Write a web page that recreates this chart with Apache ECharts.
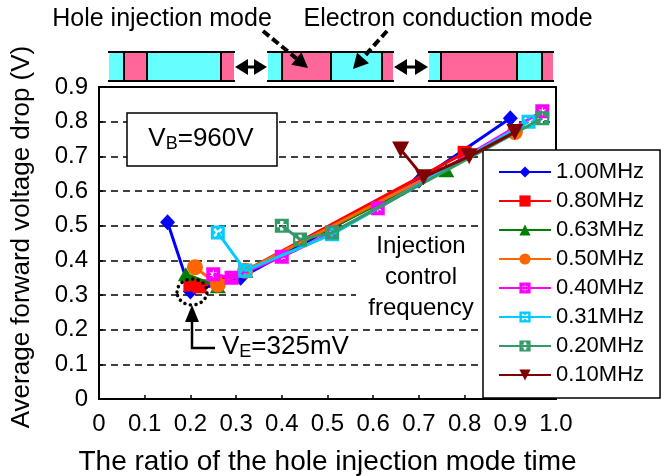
<!DOCTYPE html>
<html>
<head>
<meta charset="utf-8">
<script src="https://cdn.jsdelivr.net/npm/echarts@6/dist/echarts.min.js"></script>
<style>
  html, body { margin: 0; padding: 0; background: #fff; }
  #chart { width: 667px; height: 476px; }
</style>
</head>
<body>
<div id="chart"></div>
<script>
// ---- Data ----
const seriesNames = ['1.00MHz', '0.80MHz', '0.63MHz', '0.50MHz', '0.40MHz', '0.31MHz', '0.20MHz', '0.10MHz'];

const ratio_100 = [0.15, 0.20, 0.31, 0.70, 0.90];
const vf_100    = [0.51, 0.31, 0.35, 0.63, 0.81];

const ratio_080 = [0.20, 0.22, 0.32, 0.80];
const vf_080    = [0.33, 0.325, 0.37, 0.71];

const ratio_063 = [0.19, 0.26, 0.32, 0.76];
const vf_063    = [0.36, 0.325, 0.37, 0.66];

const ratio_050 = [0.21, 0.26, 0.32, 0.91];
const vf_050    = [0.38, 0.33, 0.37, 0.77];

const ratio_040 = [0.25, 0.29, 0.40, 0.51, 0.61, 0.97];
const vf_040    = [0.36, 0.35, 0.41, 0.48, 0.55, 0.83];

const ratio_031 = [0.26, 0.32, 0.51, 0.94];
const vf_031    = [0.48, 0.37, 0.475, 0.80];

const ratio_020 = [0.40, 0.44, 0.51, 0.97];
const vf_020    = [0.50, 0.46, 0.48, 0.81];

const ratio_010 = [0.66, 0.71, 0.81, 0.91];
const vf_010    = [0.72, 0.64, 0.70, 0.77];

const xTickLabels = ['0', '0.1', '0.2', '0.3', '0.4', '0.5', '0.6', '0.7', '0.8', '0.9', '1.0'];
const yTickLabels = ['0', '0.1', '0.2', '0.3', '0.4', '0.5', '0.6', '0.7', '0.8', '0.9'];

// ---- Styles ----
const FONT = "'Liberation Sans', Arial, Helvetica, sans-serif";
const SQ = 'M0 0L100 0L100 100L0 100Z';
const SYM_ASTER = 'path://' + SQ + 'M50 16L44.5 40.5L20.6 33L39 50L20.6 67L44.5 59.5L50 84L55.5 59.5L79.4 67L61 50L79.4 33L55.5 40.5Z';
const SYM_X = 'path://' + SQ + 'M18 30L36 50L18 70L30 82L50 64L70 82L82 70L64 50L82 30L70 18L50 36L30 18Z';
const SYM_PLUS = 'path://' + SQ + 'M38 16L38 38L16 38L16 62L38 62L38 84L62 84L62 62L84 62L84 38L62 38L62 16Z';
const SYM_TRIDOWN = 'path://M0 0L100 0L50 90Z';

const seriesDefs = [
  { x: ratio_100, y: vf_100, color: '#0000FF', symbol: 'diamond', size: [15, 16] },
  { x: ratio_080, y: vf_080, color: '#FF0000', symbol: 'rect', size: 14 },
  { x: ratio_063, y: vf_063, color: '#008000', symbol: 'triangle', size: [16, 14] },
  { x: ratio_050, y: vf_050, color: '#FF6600', symbol: 'circle', size: 16 },
  { x: ratio_040, y: vf_040, color: '#FF00FF', symbol: SYM_ASTER, size: 14 },
  { x: ratio_031, y: vf_031, color: '#00CCFF', symbol: SYM_X, size: 14 },
  { x: ratio_020, y: vf_020, color: '#339966', symbol: SYM_PLUS, size: 14 },
  { x: ratio_010, y: vf_010, color: '#800000', symbol: SYM_TRIDOWN, size: [17, 16] }
];

const series = seriesDefs.map((d, i) => ({
  name: seriesNames[i],
  type: 'line',
  data: d.x.map((v, k) => [v, d.y[k]]),
  symbol: d.symbol,
  symbolSize: d.size,
  showSymbol: true,
  lineStyle: { color: d.color, width: 3 },
  itemStyle: { color: d.color, borderWidth: 0 },
  emphasis: { disabled: true },
  z: 3 + i
}));

// ---- Decorative top diagram ----
const CYAN = '#66FFFF', PINK = '#FF6699';
function modeBar(segs) {
  const els = [];
  const x0 = segs[0][0], x1 = segs[segs.length - 1][1];
  segs.forEach(s => els.push({ type: 'rect', shape: { x: s[0], y: 52, width: s[1] - s[0], height: 29 }, style: { fill: s[2] }, z: 20 }));
  for (let k = 1; k < segs.length; k++) {
    els.push({ type: 'line', shape: { x1: segs[k][0], y1: 52, x2: segs[k][0], y2: 81 }, style: { stroke: '#000', lineWidth: 2 }, z: 21 });
  }
  els.push({ type: 'line', shape: { x1: x0 - 1, y1: 52, x2: x1 + 1, y2: 52 }, style: { stroke: '#000', lineWidth: 2 }, z: 21 });
  els.push({ type: 'line', shape: { x1: x0 - 1, y1: 81, x2: x1 + 1, y2: 81 }, style: { stroke: '#000', lineWidth: 2 }, z: 21 });
  return els;
}
function dblArrow(xa, xb, y) {
  return [
    { type: 'polygon', shape: { points: [[xa, y], [xa + 13, y - 8], [xa + 13, y + 8]] }, style: { fill: '#000' }, z: 21 },
    { type: 'polygon', shape: { points: [[xb, y], [xb - 13, y - 8], [xb - 13, y + 8]] }, style: { fill: '#000' }, z: 21 },
    { type: 'line', shape: { x1: xa + 10, y1: y, x2: xb - 10, y2: y }, style: { stroke: '#000', lineWidth: 3 }, z: 21 }
  ];
}
function dashArrow(x1, y1, x2, y2) {
  const a = Math.atan2(y2 - y1, x2 - x1);
  const L = 15, W = 8;
  const bx = x2 - L * Math.cos(a), by = y2 - L * Math.sin(a);
  const px = -Math.sin(a) * W, py = Math.cos(a) * W;
  return [
    { type: 'line', shape: { x1: x1, y1: y1, x2: bx, y2: by }, style: { stroke: '#000', lineWidth: 4, lineDash: [8, 4] }, z: 22 },
    { type: 'polygon', shape: { points: [[x2, y2], [bx + px, by + py], [bx - px, by - py]] }, style: { fill: '#000' }, z: 22 }
  ];
}

const graphics = [].concat(
  modeBar([[109, 124, CYAN], [124, 147, PINK], [147, 221, CYAN], [221, 234, PINK]]),
  modeBar([[268, 282, CYAN], [282, 331, PINK], [331, 382, CYAN], [382, 393, PINK]]),
  modeBar([[429, 441, CYAN], [441, 517, PINK], [517, 542, CYAN], [542, 553, PINK]]),
  dblArrow(235, 267, 67),
  dblArrow(394, 428, 67),
  dashArrow(263, 31, 308, 68),
  dashArrow(387, 31, 353, 69),
  [
    { type: 'text', x: 162, y: 19, style: { text: 'Hole injection mode', font: '25px ' + FONT, fill: '#000', align: 'center', verticalAlign: 'middle' }, z: 23 },
    { type: 'text', x: 448, y: 19, style: { text: 'Electron conduction mode', font: '25px ' + FONT, fill: '#000', align: 'center', verticalAlign: 'middle' }, z: 23 },
    // Y axis title
    { type: 'text', x: 22, y: 237, rotation: Math.PI / 2, style: { text: 'Average forward voltage drop (V)', font: '26px ' + FONT, fill: '#000', align: 'center', verticalAlign: 'middle' }, z: 23 },
    // V_B box
    { type: 'rect', shape: { x: 127, y: 113, width: 150, height: 53 }, style: { fill: '#fff', stroke: '#000', lineWidth: 1.5 }, z: 5 },
    { type: 'text', x: 201, y: 139, style: {
        text: 'V{sub|B}=960V', font: '26px ' + FONT, fill: '#000', align: 'center', verticalAlign: 'middle',
        rich: { sub: { fontSize: 18, fontFamily: FONT, padding: [10, 0, 0, 0], fill: '#000' } }
      }, z: 6 },
    // Injection control frequency label
    { type: 'rect', shape: { x: 356, y: 236, width: 127, height: 87 }, style: { fill: '#fff' }, z: 5 },
    { type: 'text', x: 421, y: 277, style: { text: 'Injection\ncontrol\nfrequency', font: '24px ' + FONT, lineHeight: 31, fill: '#000', align: 'center', verticalAlign: 'middle' }, z: 6 },
    // V_E annotation
    { type: 'ellipse', shape: { cx: 192, cy: 292, rx: 15, ry: 13 }, style: { fill: 'none', stroke: '#000', lineWidth: 3.5, lineDash: [0.1, 5.5], lineCap: 'round' }, z: 30 },
    { type: 'polyline', shape: { points: [[215, 348], [192, 348], [192, 318]] }, style: { stroke: '#000', lineWidth: 2.5, fill: 'none' }, z: 30 },
    { type: 'polygon', shape: { points: [[192, 305], [185, 322], [199, 322]] }, style: { fill: '#000' }, z: 30 },
    { type: 'text', x: 222, y: 347, style: {
        text: 'V{sub|E}=325mV', font: '26px ' + FONT, fill: '#000', align: 'left', verticalAlign: 'middle',
        rich: { sub: { fontSize: 18, fontFamily: FONT, padding: [10, 0, 0, 0], fill: '#000' } }
      }, z: 30 }
  ]
);

const chart = echarts.init(document.getElementById('chart'), null, { renderer: 'canvas' });
chart.setOption({
  animation: false,
  backgroundColor: '#fff',
  textStyle: { fontFamily: FONT, color: '#000' },
  grid: { left: 99, top: 87, right: 111, bottom: 77, show: true, borderColor: '#000', borderWidth: 2,
          backgroundColor: 'transparent', containLabel: false, outerBoundsMode: 'none' },
  xAxis: {
    type: 'value', min: 0, max: 1, interval: 0.1,
    axisLine: { show: true, onZero: false, lineStyle: { color: '#000', width: 2 } },
    axisTick: { show: true, inside: true, length: 4, lineStyle: { color: '#000', width: 1.5 } },
    axisLabel: { fontSize: 24, color: '#000', fontFamily: FONT, margin: 13,
      formatter: (v) => xTickLabels[Math.round(v * 10)] },
    splitLine: { show: false },
    name: 'The ratio of the hole injection mode time',
    nameLocation: 'middle', nameGap: 49,
    nameTextStyle: { fontSize: 28, color: '#000', fontFamily: FONT }
  },
  yAxis: {
    type: 'value', min: 0, max: 0.9, interval: 0.1,
    axisLine: { show: true, lineStyle: { color: '#000', width: 2 } },
    axisTick: { show: true, inside: true, length: 4, lineStyle: { color: '#000', width: 1.5 } },
    axisLabel: { fontSize: 24, color: '#000', fontFamily: FONT, margin: 11, padding: [6, 0, 0, 0],
      formatter: (v) => yTickLabels[Math.round(v * 10)] },
    splitLine: { show: true, lineStyle: { color: '#000', width: 1.5, type: [7, 5] } }
  },
  legend: {
    data: seriesNames,
    orient: 'vertical',
    left: 483, top: 150,
    backgroundColor: '#fff',
    borderColor: '#000', borderWidth: 1.5, borderRadius: 0,
    padding: [11, 16, 12, 15],
    itemGap: 7, itemWidth: 52, itemHeight: 14,
    textStyle: { fontSize: 22, lineHeight: 21, color: '#000', fontFamily: FONT },
    z: 10
  },
  graphic: { elements: graphics },
  series: series
});
</script>
</body>
</html>
